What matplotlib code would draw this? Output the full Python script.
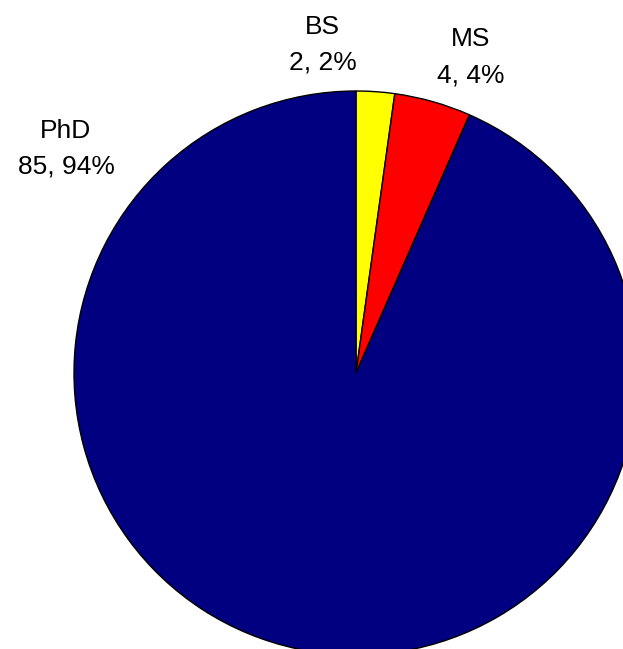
import matplotlib
matplotlib.use("Agg")
import matplotlib.pyplot as plt

categories = ["BS", "MS", "PhD"]
counts = [2, 4, 85]
percents = [2, 4, 94]
colors = ["#FFFF00", "#FF0000", "#000080"]

W, H = 623, 649
fig = plt.figure(figsize=(W / 100, H / 100), dpi=100)
ax = fig.add_axes([0, 0, 1, 1])

cx, cy, r = 356, H - 373, 282
ax.pie(counts, colors=colors, startangle=90, counterclock=False,
       center=(cx, cy), radius=r, frame=True,
       wedgeprops=dict(edgecolor="black", linewidth=1.0))
ax.set_xlim(0, W)
ax.set_ylim(0, H)
ax.set_aspect("equal")
ax.axis("off")

# (x centre, baseline line 1, baseline line 2) in pixels from top
label_pos = {"BS": (322.5, 33.5, 69.5), "MS": (471, 46, 82.5), "PhD": (66, 137.5, 173.5)}
for cat, n, pct in zip(categories, counts, percents):
    x, y1, y2 = label_pos[cat]
    ax.text(x, H - y1, cat, ha="center", va="baseline",
            fontsize=19, family="Liberation Sans")
    ax.text(x, H - y2, f"{n}, {pct}%", ha="center", va="baseline",
            fontsize=19, family="Liberation Sans")

fig.savefig("out.png", dpi=100)
